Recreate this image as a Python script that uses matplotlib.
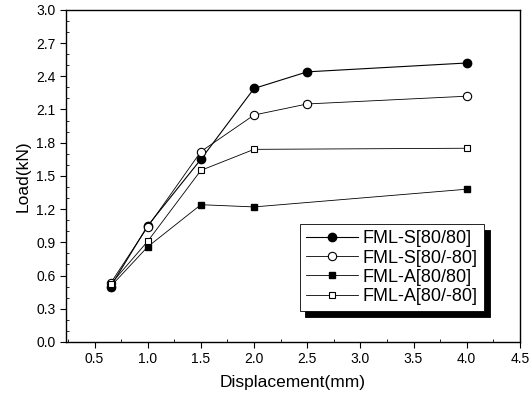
import matplotlib.pyplot as plt
from matplotlib.patches import Shadow
from matplotlib.ticker import MultipleLocator

plt.rcParams['font.family'] = ['Liberation Sans', 'DejaVu Sans']

# FML-S[80/80]
s_pos_x = [0.65, 1.0, 1.5, 2.0, 2.5, 4.0]
s_pos_y = [0.50, 1.05, 1.65, 2.29, 2.44, 2.52]
# FML-S[80/-80]
s_neg_x = [0.65, 1.0, 1.5, 2.0, 2.5, 4.0]
s_neg_y = [0.53, 1.04, 1.72, 2.05, 2.15, 2.22]
# FML-A[80/80]
a_pos_x = [0.65, 1.0, 1.5, 2.0, 4.0]
a_pos_y = [0.50, 0.86, 1.24, 1.22, 1.38]
# FML-A[80/-80]
a_neg_x = [0.65, 1.0, 1.5, 2.0, 4.0]
a_neg_y = [0.52, 0.91, 1.55, 1.74, 1.75]

labels = ["FML-S[80/80]", "FML-S[80/-80]", "FML-A[80/80]", "FML-A[80/-80]"]
xticks = [0.5, 1.0, 1.5, 2.0, 2.5, 3.0, 3.5, 4.0, 4.5]
yticks = [0.0, 0.3, 0.6, 0.9, 1.2, 1.5, 1.8, 2.1, 2.4, 2.7, 3.0]

fig = plt.figure(figsize=(5.31, 3.94), dpi=100)
ax = fig.add_axes([0.124, 0.132, 0.855, 0.843])

ax.plot(s_pos_x, s_pos_y, color='black', lw=0.8, marker='o', ms=6,
        mfc='black', mec='black', label=labels[0])
ax.plot(s_neg_x, s_neg_y, color='black', lw=0.6, marker='o', ms=6,
        mfc='white', mec='black', mew=0.8, label=labels[1])
ax.plot(a_pos_x, a_pos_y, color='black', lw=0.6, marker='s', ms=5,
        mfc='black', mec='black', label=labels[2])
ax.plot(a_neg_x, a_neg_y, color='black', lw=0.6, marker='s', ms=5,
        mfc='white', mec='black', mew=0.8, label=labels[3])

ax.set_xlim(0.23, 4.5)
ax.set_ylim(0.0, 3.0)
ax.set_xticks(xticks)
ax.set_xticklabels([f"{v:.1f}" for v in xticks])
ax.set_yticks(yticks)
ax.set_yticklabels([f"{v:.1f}" for v in yticks])
ax.xaxis.set_minor_locator(MultipleLocator(0.25))
ax.yaxis.set_minor_locator(MultipleLocator(0.1))
ax.tick_params(which='major', direction='out', length=4, width=0.8, labelsize=10)
ax.tick_params(which='minor', direction='in', length=2.5, width=0.6)
for sp in ax.spines.values():
    sp.set_linewidth(1.0)

ax.set_xlabel("Displacement(mm)", fontsize=12.5, labelpad=6)
ax.set_ylabel("Load(kN)", fontsize=12.5, labelpad=4)

leg = ax.legend(loc='upper left', bbox_to_anchor=(0.515, 0.355),
                fontsize=13, frameon=True, fancybox=False, framealpha=1.0,
                handlelength=2.9, borderpad=0.35, borderaxespad=0.0,
                labelspacing=0.12, handletextpad=0.25)
leg.get_frame().set_edgecolor('black')
leg.get_frame().set_linewidth(0.6)

# heavier offset shadow like the original
fig.canvas.draw()
sh = Shadow(leg.legendPatch, 4, -4, color='black', alpha=1.0)
sh.set_zorder(leg.get_zorder() - 0.1)
ax.add_artist(sh)

fig.savefig("out.png", dpi=100)
